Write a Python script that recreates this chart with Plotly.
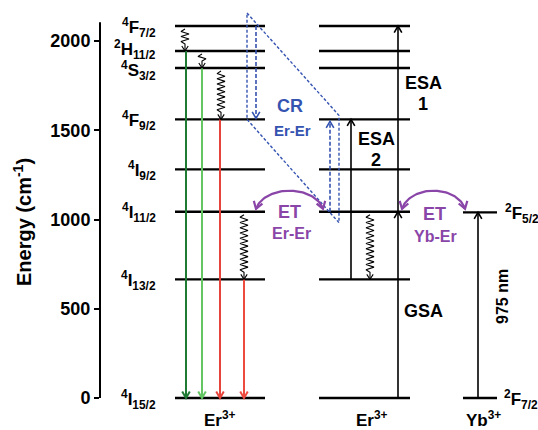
import numpy as np
import plotly.graph_objects as go

# ---------------- data ----------------
er_levels = ["4F7/2", "2H11/2", "4S3/2", "4F9/2", "4I9/2", "4I11/2", "4I13/2", "4I15/2"]
er_labels = ["<sup>4</sup>F<sub>7/2</sub>", "<sup>2</sup>H<sub>11/2</sub>", "<sup>4</sup>S<sub>3/2</sub>",
             "<sup>4</sup>F<sub>9/2</sub>", "<sup>4</sup>I<sub>9/2</sub>", "<sup>4</sup>I<sub>11/2</sub>",
             "<sup>4</sup>I<sub>13/2</sub>", "<sup>4</sup>I<sub>15/2</sub>"]
er_energy = [2084, 1944, 1849, 1561, 1281, 1044, 665, 0]

yb_labels = ["<sup>2</sup>F<sub>5/2</sub>", "<sup>2</sup>F<sub>7/2</sub>"]
yb_energy = [1040, 0]

ion_labels = ["Er<sup>3+</sup>", "Er<sup>3+</sup>", "Yb<sup>3+</sup>"]
y_ticks = [0, 500, 1000, 1500, 2000]
y_ticktext = ["0", "500", "1000", "1500", "2000"]

emission_from = ["2H11/2", "4S3/2", "4F9/2", "4I13/2"]
emission_colors = ["#1f7a33", "#63c663", "#e6433a", "#ee4b40"]

relax_from = ["4F7/2", "2H11/2", "4S3/2", "4I11/2"]
relax_to = ["2H11/2", "4S3/2", "4F9/2", "4I13/2"]

# ---------------- layout constants ----------------
W, H = 538, 430
FONT = "Liberation Sans"
Y_RANGE = [-179, 2230]
PXU = H / (Y_RANGE[1] - Y_RANGE[0])   # pixels per energy unit
X0 = 100                               # x of the energy axis (px)
BLUE = "#3553b0"
PURPLE = "#8a45a8"
label_shift_px = [0, 3, -1, 0, 0, 0, 0, 0]


def E(name):
    return er_energy[er_levels.index(name)]


def py(px):
    return px / PXU


def ypix(px):
    return Y_RANGE[1] - px / PXU


fig = go.Figure()


def seg(xs, ys, color, width, dash=None):
    fig.add_trace(go.Scatter(x=list(xs), y=list(ys), mode="lines",
                             line=dict(color=color, width=width, dash=dash),
                             hoverinfo="skip", showlegend=False))


def head(x, y, dx, dy, color, width, L=6.5, Wd=3.8):
    n = np.hypot(dx, dy)
    dx, dy = dx / n, dy / n
    qx, qy = -dy, dx
    b1 = (-dx * L + qx * Wd, -dy * L + qy * Wd)
    b2 = (-dx * L - qx * Wd, -dy * L - qy * Wd)
    seg([x + b1[0], x, x + b2[0]], [y + py(b1[1]), y, y + py(b2[1])], color, width)


def arrow(x, y0, y1, color, width, dash=None):
    seg([x, x], [y0, y1], color, width, dash)
    head(x, y1, 0, 1 if y1 > y0 else -1, color, width)


def wavy(x, ytop, ybot, color="black"):
    start = ytop - py(3)
    stop = ybot + py(7)
    n = max(2, int(round((start - stop) * PXU / 2.6)))
    ys = np.linspace(start, stop, n + 1)
    xs = x + np.array([0] + [4 * (-1) ** i for i in range(1, n)] + [0])
    seg(np.append(xs, x), np.append(ys, ybot), color, 1.1)
    head(x, ybot, 0, -1, color, 1.1, L=5, Wd=3.2)


def arc(x_left, x_right, base, color):
    cx = (x_left + x_right) / 2
    t0 = np.radians(12)
    a = (x_right - x_left) / 2 / np.cos(t0)
    b = 23
    t = np.linspace(np.pi - t0, t0, 60)
    xs = cx + a * np.cos(t)
    ys = base - py(2) + py(b * np.sin(t))
    seg(xs, ys, color, 2.2)
    head(xs[0], ys[0], -a * np.sin(t0), -b * np.cos(t0), color, 2.2, L=7, Wd=4.5)
    head(xs[-1], ys[-1], a * np.sin(t0), -b * np.cos(t0), color, 2.2, L=7, Wd=4.5)


def text(x, y, s, size, color="black", xanchor="center", angle=0):
    fig.add_annotation(x=x, y=y, xref="x", yref="y", text=s, showarrow=False,
                       font=dict(family=FONT, size=size, color=color, weight="bold"),
                       xanchor=xanchor, yanchor="middle", textangle=angle)


# ---------------- columns ----------------
col1 = (175, 265)
col2 = (319, 410)
col3 = (463, 497)

# level lines
for e in er_energy:
    seg(col1, [e, e], "black", 2.4)
    seg(col2, [e, e], "black", 2.4)
for e in yb_energy:
    seg(col3, [e, e], "black", 2.4)

# emission arrows
em_x = [186, 202, 220, 244]
for xx, lv, c in zip(em_x, emission_from, emission_colors):
    arrow(xx, E(lv), 0, c, 2.0)

# non-radiative relaxations
rx = [185, 202, 221, 244]
for xx, a_, b_ in zip(rx, relax_from, relax_to):
    wavy(xx, E(a_), E(b_))
wavy(370, E("4I11/2"), E("4I13/2"))

# cross-relaxation (dashed parallelogram)
tl = E("4F7/2") + py(13)
bl = E("4F9/2")
tr = E("4F9/2") + py(4)
br = E("4I11/2") - py(11)
seg([247, 339, 339, 247, 247], [tl, tr, br, bl, tl], BLUE, 1.4, dash="3px,2px")
arrow(256, E("4F7/2"), E("4F9/2") + py(1), BLUE, 1.6, dash="4px,2px")
arrow(330, E("4I11/2"), E("4F9/2") - py(2), BLUE, 1.6, dash="4px,2px")

# absorption arrows
arrow(398, 0, E("4I11/2"), "black", 1.6)
arrow(398, E("4I11/2"), E("4F7/2"), "black", 1.6)
arrow(351, E("4I13/2"), E("4F9/2"), "black", 1.6)
arrow(478, 0, yb_energy[0], "black", 1.6)

# energy transfer arcs
arc(256, 323, E("4I11/2"), PURPLE)
arc(402, 465, E("4I11/2"), PURPLE)

# ---------------- texts ----------------
for lab, e, s in zip(er_labels, er_energy, label_shift_px):
    text(158, e - py(1) + py(s), lab, 17, xanchor="right")
text(503, yb_energy[0] - py(1), yb_labels[0], 17, xanchor="left")
text(502, yb_energy[1] - py(1), yb_labels[1], 17, xanchor="left")

for xx, lab in zip([220, 372, 483], ion_labels):
    text(xx, -py(21), lab, 17)

text(290, ypix(106), "CR", 18, BLUE)
text(292, ypix(130), "Er-Er", 15, BLUE)
text(289, ypix(212), "ET", 18, PURPLE)
text(291, ypix(233), "Er-Er", 16, PURPLE)
text(434, ypix(214), "ET", 18, PURPLE)
text(435, ypix(236), "Yb-Er", 16, PURPLE)
text(423, ypix(83), "ESA", 18)
text(423, ypix(104), "1", 18)
text(376, ypix(139), "ESA", 18)
text(376, ypix(160), "2", 18)
text(423, ypix(311), "GSA", 18)
text(502, ypix(297), "975 nm", 16, angle=-90)

# axis title
fig.add_annotation(x=22 / W, y=1 - 222 / H, xref="paper", yref="paper",
                   text="Energy (cm<sup>-1</sup>)", showarrow=False, textangle=-90,
                   font=dict(family=FONT, size=20, color="black", weight="bold"),
                   xanchor="center", yanchor="middle")

# axis line
fig.add_shape(type="line", xref="paper", yref="y", x0=X0 / W, x1=X0 / W, y0=0, y1=2106,
              line=dict(color="black", width=2))

fig.update_layout(
    width=W, height=H, margin=dict(l=0, r=0, t=0, b=0),
    paper_bgcolor="white", plot_bgcolor="white", showlegend=False,
    xaxis=dict(domain=[X0 / W, 1], range=[X0, W], visible=False, fixedrange=True),
    yaxis=dict(range=Y_RANGE, showgrid=False, zeroline=False, showline=False,
               ticks="outside", ticklen=5, tickwidth=2, tickcolor="black",
               tickvals=y_ticks, ticktext=y_ticktext,
               tickfont=dict(family=FONT, size=18, color="black", weight="bold")),
)

fig.write_html("out.html")
